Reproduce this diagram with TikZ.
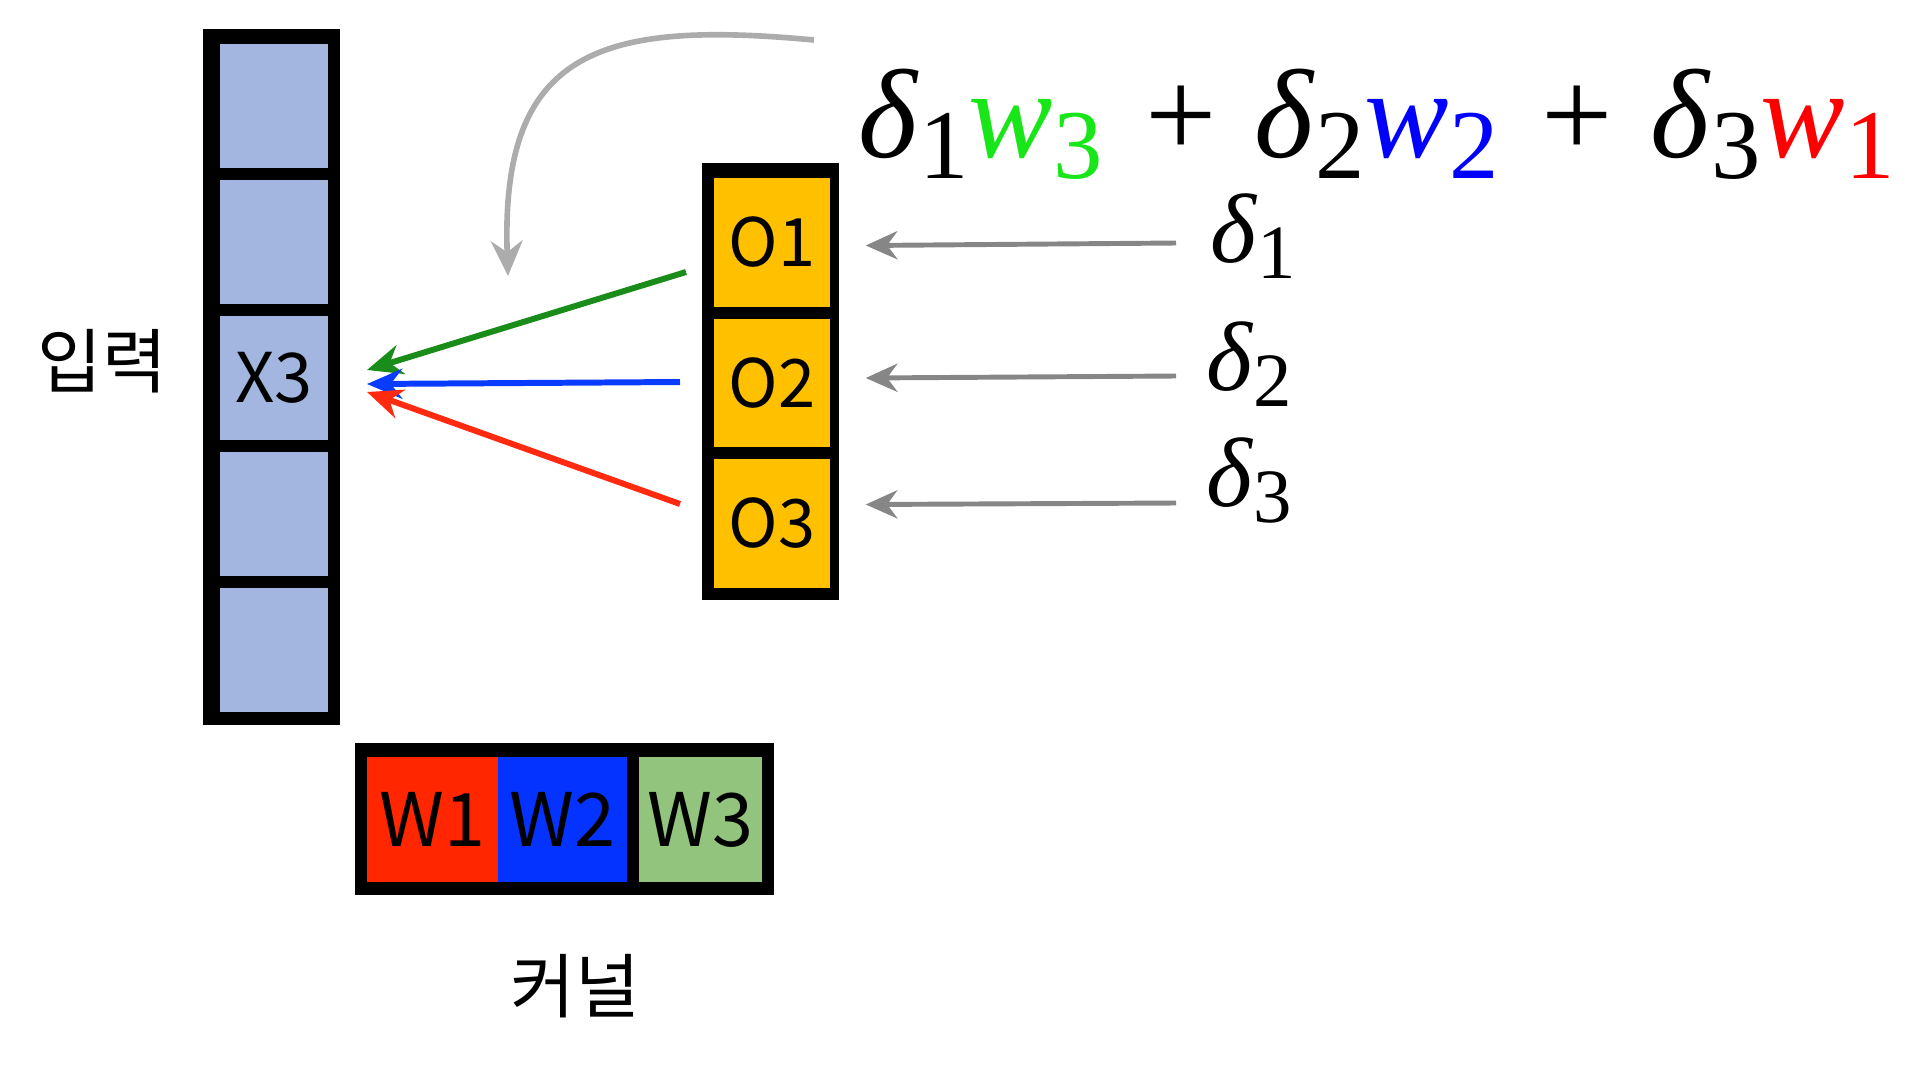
\documentclass[tikz,border=0pt]{standalone}
\usepackage{fontspec}
\setmainfont{Liberation Serif}
\newfontfamily\kr{Noto Sans CJK KR}
\usetikzlibrary{arrows.meta,calc}
\definecolor{cellblue}{HTML}{A3B6E0}
\definecolor{cellyel}{HTML}{FFC000}
\definecolor{kred}{HTML}{FF2600}
\definecolor{kblue}{HTML}{0433FF}
\definecolor{kgreen}{HTML}{93C47D}
\definecolor{agreen}{HTML}{1A8C1A}
\definecolor{ablue}{HTML}{0A3CFF}
\definecolor{ared}{HTML}{FF2A10}
\definecolor{fgreen}{HTML}{19E619}
\definecolor{fblue}{HTML}{0000FF}
\definecolor{fred}{HTML}{FF0000}
\newcommand\subs[1]{\raisebox{-0.17em}{\scalebox{0.78}{#1}}}
\newcommand\dl[1]{\textit{δ}\subs{#1}}
\newcommand\pl{\hspace{0.34em}+\hspace{0.3em}}
\tikzset{
  frame/.style={fill=black, draw=none, inner sep=0pt},
  incell/.style={fill=cellblue, draw=none, inner sep=0pt, minimum width=1.08cm, minimum height=1.24cm, font=\kr\fontsize{19.5}{19.5}\selectfont},
  outcell/.style={fill=cellyel, draw=none, inner sep=0pt, minimum width=1.16cm, minimum height=1.285cm, font=\kr\fontsize{19}{19}\selectfont},
  kcell/.style={draw=none, inner sep=0pt, minimum height=1.25cm, font=\kr\fontsize{21}{21}\selectfont},
  label/.style={font=\kr\fontsize{20}{20}\selectfont, inner sep=0pt},
  conn/.style={line width=1.7pt, -{Stealth[length=10pt,width=8.5pt]}},
  grayarr/.style={line width=1.4pt, draw=gray!95, -{Stealth[length=9pt,width=8pt]}},
  curvearr/.style={line width=1.6pt, draw=gray!65, -{Stealth[length=10pt,width=9pt]}},
  delta/.style={font=\fontsize{28}{28}\selectfont, inner sep=0pt, anchor=base west}
}
\begin{document}
\begin{tikzpicture}[x=0.01cm,y=-0.01cm]
\useasboundingbox (0,0) rectangle (1920,1075);
% input column
\node[frame, minimum width=1.37cm, minimum height=6.96cm] (incol) at (271.5,377) {};
\node[incell] (x1) at (274,106) {};
\node[incell] (x2) at (274,242) {};
\node[incell] (x3) at (274,378) {X3};
\node[incell] (x4) at (274,514) {};
\node[incell] (x5) at (274,650) {};
\node[label] (inlabel) at (102,361) {입력};
% output column
\node[frame, minimum width=1.37cm, minimum height=4.37cm] (outcol) at (770.5,381.5) {};
\node[outcell] (o1) at (772,242.5) {O1};
\node[outcell] (o2) at (772,383) {O2};
\node[outcell] (o3) at (772,523.5) {O3};
% kernel
\node[frame, minimum width=4.19cm, minimum height=1.52cm] (kframe) at (564.5,819) {};
\node[kcell, fill=kred, minimum width=1.31cm] (w1) at (432.5,819.5) {W1};
\node[kcell, fill=kblue, minimum width=1.29cm] (w2) at (562.5,819.5) {W2};
\node[kcell, fill=kgreen, minimum width=1.23cm] (w3) at (700.5,819.5) {W3};
\node[label] (klabel) at (575,986) {커널};
% formula
\node[delta, font=\fontsize{36}{36}\selectfont] (formula) at (858,157) {\dl{1}\textcolor{fgreen}{\textit{w}\subs{3}}\pl\dl{2}\textcolor{fblue}{\textit{w}\subs{2}}\pl\dl{3}\textcolor{fred}{\textit{w}\subs{1}}};
% deltas
\node[delta] (d1) at (1210,262) {\dl{1}};
\node[delta] (d2) at (1206,390) {\dl{2}};
\node[delta] (d3) at (1206,506) {\dl{3}};
% connector coordinates
\coordinate (gs) at (686,272);
\coordinate (gt) at (367,370);
\coordinate (bs) at (680,382);
\coordinate (bt) at (367,384);
\coordinate (rs) at (680,504);
\coordinate (rt) at (367,392);
\coordinate (cs) at (814,40);
\coordinate (ce) at (508,276);
\coordinate (a1) at (1176,243);
\coordinate (a2) at (1176,376);
\coordinate (a3) at (1176,503);
\draw[conn, draw=agreen] (gs) -- (gt);
\draw[conn, draw=ablue] (bs) -- (bt);
\draw[conn, draw=ared] (rs) -- (rt);
\draw[grayarr] (a1) -- ($(o1.east)+(35,3)$);
\draw[grayarr] (a2) -- ($(o2.east)+(35,-5)$);
\draw[grayarr] (a3) -- ($(o3.east)+(35,-19)$);
\draw[curvearr] (cs) .. controls (600,20) and (500,50) .. (ce);
\end{tikzpicture}
\end{document}
